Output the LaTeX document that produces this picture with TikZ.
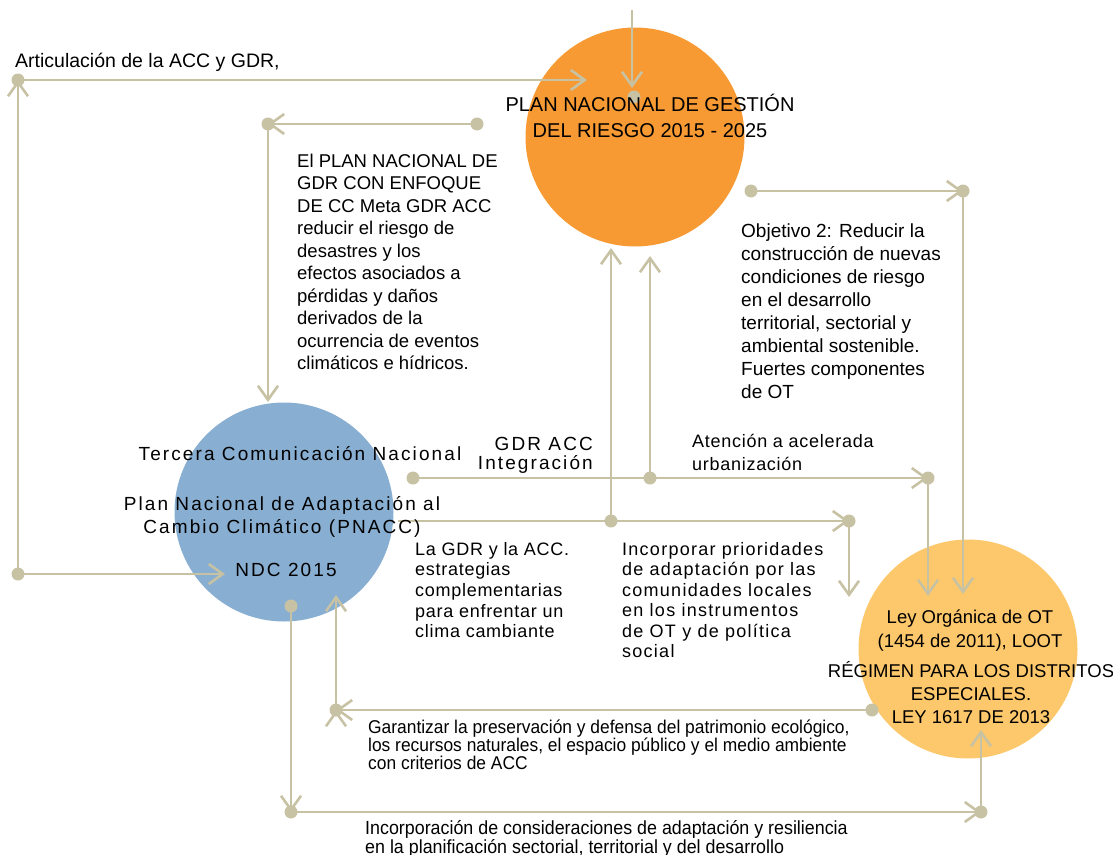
\documentclass[tikz,border=0pt]{standalone}
\usepackage{fontspec}
\setmainfont{Liberation Sans}
\newfontfamily\trackfont[LetterSpace=11]{Liberation Sans}
\newfontfamily\smalltrack[LetterSpace=4]{Liberation Sans}
\newfontfamily\narrowfont[FakeStretch=0.94]{Liberation Sans}
\usetikzlibrary{arrows.meta,positioning}
\definecolor{linkc}{RGB}{200,194,164}
\definecolor{gdrorange}{RGB}{247,154,52}
\definecolor{accblue}{RGB}{136,174,209}
\definecolor{otyellow}{RGB}{253,199,107}

\begin{document}
\begin{tikzpicture}[x=1pt,y=-1pt,
  plan/.style={circle,inner sep=0pt,minimum size=219pt},
  link/.style={draw=linkc,line width=2.6pt,-{Straight Barb[length=14pt,width=20pt]}},
  txt/.style={inner sep=0pt,anchor=base west,align=left,text=black,
    font=\fontsize{18.5}{22.5}\selectfont},
  mid/.style={inner sep=0pt,anchor=base,align=center,text=black},
  tracked/.style={font=\trackfont\fontsize{19}{23}\selectfont},
  note/.style={txt,font=\smalltrack\fontsize{18}{20.7}\selectfont},
  small/.style={txt,font=\narrowfont\fontsize{18.5}{18}\selectfont}]
\useasboundingbox (0,0) rectangle (1113,854);
% Here are the three plans, drawn first so that the links lie on top
   \node[plan,fill=gdrorange] (pngr)  at (635,137) {};
   \node[plan,fill=accblue]   (pnacc) at (284,512) {};
   \node[plan,fill=otyellow]  (loot)  at (968,649) {};
% Here are the corners and free ends of the links
   \coordinate (artA) at (18,574);  \coordinate (artB) at (18,80);
   \coordinate (artE) at (225,574); \coordinate (orgE) at (587,80);
   \coordinate (topS) at (632,10);  \coordinate (topE) at (632,88);
   \coordinate (topD) at (634,97);
   \coordinate (gdrA) at (477,124); \coordinate (gdrB) at (268,124);
   \coordinate (gdrE) at (268,402);
   \coordinate (objA) at (751,191); \coordinate (objB) at (963,191);
   \coordinate (objE) at (963,594);
   \coordinate (intA) at (413,478); \coordinate (intM) at (650,478);
   \coordinate (intU) at (650,256); \coordinate (intB) at (928,478);
   \coordinate (intE) at (928,596);
   \coordinate (adaA) at (398,521); \coordinate (adaM) at (611,521);
   \coordinate (adaU) at (611,248); \coordinate (adaB) at (849,521);
   \coordinate (adaE) at (849,597);
   \coordinate (ndcA) at (291,606); \coordinate (ndcB) at (291,812);
   \coordinate (ndcC) at (981,812); \coordinate (ndcE) at (981,730);
   \coordinate (preA) at (872,710); \coordinate (preB) at (336,710);
   \coordinate (preE) at (336,595);
% Here is where we draw the links between the plans
    \path[link]
    (artA) edge (artB)
           edge (artE)
    (artB) edge (orgE)
    (topS) edge (topE)
    (gdrA) edge (gdrB)
    (gdrB) edge (gdrE)
    (objA) edge (objB)
    (objB) edge (objE)
    (intA) edge (intB)
    (intM) edge (intU)
    (intB) edge (intE)
    (adaA) edge (adaB)
    (adaM) edge (adaU)
    (adaB) edge (adaE)
    (ndcA) edge (ndcB)
    (ndcB) edge (ndcC)
    (ndcC) edge (ndcE)
    (preA) edge (preB)
    (preB) edge (preE);
    \foreach \d in {artA,artB,topD,gdrA,gdrB,objA,objB,intA,intM,intB,
                    adaM,adaB,ndcA,ndcB,ndcC,preA,preB}
      \fill[linkc] (\d) circle (6.5pt);
% Here are the texts (a node with several lines sits on its last baseline)
   \node[txt,font=\fontsize{19.5}{22.5}\selectfont] (artText) at (15,67) {Articulación de la ACC y GDR,};
   \node[mid,font=\fontsize{20}{26}\selectfont] (pngrText) at (650,137)
     {PLAN NACIONAL DE GESTIÓN\\DEL RIESGO 2015 - 2025};
   \node[txt] (metaText) at (297,369.5) {El PLAN NACIONAL DE\\GDR CON ENFOQUE\\DE CC Meta GDR ACC\\reducir el riesgo de\\desastres y los\\efectos asociados a\\pérdidas y daños\\derivados de la\\ocurrencia de eventos\\climáticos e hídricos.};
   \node[txt,font=\fontsize{19}{23}\selectfont] (objText) at (741,398) {Objetivo 2: Reducir la\\construcción de nuevas\\condiciones de riesgo\\en el desarrollo\\territorial, sectorial y\\ambiental sostenible.\\Fuertes componentes\\de OT};
   \node[mid,tracked] (tcnText) at (300,460) {Tercera Comunicación Nacional};
   \node[mid,tracked,anchor=base east,align=right,font=\trackfont\fontsize{19}{19}\selectfont]
     (intText) at (593,469) {GDR ACC\\Integración};
   \node[mid,tracked] (pnaccText) at (282,533) {Plan Nacional de Adaptación al\\Cambio Climático (PNACC)};
   \node[mid,tracked] (ndcText) at (286,576) {NDC 2015};
   \node[note,font=\smalltrack\fontsize{18}{23}\selectfont] (urbText) at (692,470) {Atención a acelerada\\urbanización};
   \node[note] (compText) at (415,637.8) {La GDR y la ACC.\\estrategias\\complementarias\\para enfrentar un\\clima cambiante};
   \node[note,font={\smalltrack\addfontfeature{LetterSpace=7}\fontsize{18}{20.5}\selectfont}] (prioText) at (622,657.5) {Incorporar prioridades\\de adaptación por las\\comunidades locales\\en los instrumentos\\de OT y de política\\social};
   \node[mid,font=\fontsize{18.5}{24}\selectfont] (lootText) at (970,647) {Ley Orgánica de OT\\(1454 de 2011), LOOT};
   \node[mid,font=\fontsize{18.5}{23}\selectfont] (regText) at (971,723) {RÉGIMEN PARA LOS DISTRITOS\\ESPECIALES.\\LEY 1617 DE 2013};
   \node[small] (presText) at (368,769) {Garantizar la preservación y defensa del patrimonio ecológico,\\los recursos naturales, el espacio público y el medio ambiente\\con criterios de ACC};
   \node[small,font=\narrowfont\fontsize{19}{17}\selectfont] (resText) at (365,853) {Incorporación de consideraciones de adaptación y resiliencia\\en la planificación sectorial, territorial y del desarrollo};
\end{tikzpicture}
\end{document}
